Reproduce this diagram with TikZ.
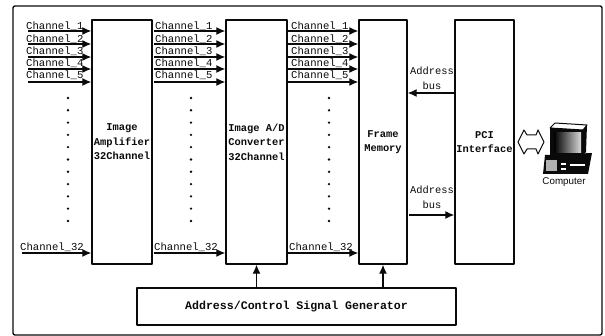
\documentclass[tikz,border=0pt]{standalone}
\usepackage{fontspec}
\setmainfont{Liberation Sans}
\setmonofont{Liberation Mono}
\usepackage{xcolor}
\usetikzlibrary{arrows.meta,calc}
\definecolor{ink}{HTML}{0A0A0A}
\begin{document}
\begin{tikzpicture}[x=1pt,y=-1pt,line join=round]
    \tikzset{
      unit/.style={rectangle,draw=ink,line width=1.4pt,fill=white,inner sep=0pt,minimum height=244pt,align=center,font=\ttfamily\bfseries\fontsize{10.4}{14.6}\selectfont,text=ink},
      chan/.style={inner sep=0pt,font=\ttfamily\fontsize{10.6}{12}\selectfont,text=ink},
      bus/.style={inner sep=0pt,align=center,font=\ttfamily\fontsize{10.4}{14.6}\selectfont,text=ink},
      arrow/.style={-{Latex[length=9pt,width=8pt]},draw=ink,line width=1.3pt},
      pt/.style={circle,fill=ink,inner sep=0pt,minimum size=2.6pt}
    }
    \useasboundingbox (0,0) rectangle (605,336);
    \draw[ink,line width=1.4pt,rounded corners=2pt] (13,6) rectangle (602,335);
    \node[unit,minimum width=60pt] (amp) at (122,142) {Image\\Amplifier\\32Channel};
    \node[unit,minimum width=61pt] (adc) at (256.5,142) {Image A/D\\Converter\\32Channel};
    \node[unit,minimum width=48pt] (mem) at (383,142) {Frame\\Memory};
    \node[unit,minimum width=59pt] (pci) at (484.5,142) {PCI\\Interface};
    \node[unit,minimum width=319pt,minimum height=37pt,font=\ttfamily\bfseries\fontsize{11.6}{14}\selectfont] (gen) at (296.5,306.5) {Address/Control Signal Generator};
    % channel inputs of the three stages
    \foreach \st/\sx/\lx/\dx/\tgt in {a/28/26/68/amp,b/154/155/191/adc,c/288/291/329/mem}{
      \foreach \n/\ya/\yl in {1/31/26,2/44/39,3/57/51,4/69/63,5/82/75}{
        \node[chan,anchor=west] (lab\st\n) at (\lx,\yl) {Channel\_\n};
        \coordinate (in\st\n) at (\sx,\ya);
        \draw[arrow] (in\st\n) -- (in\st\n -| \tgt.west);
      }
      \foreach \k in {0,...,10}{
        \node[pt] (dot\st\k) at (\dx,98+12.3*\k) {};
      }
    }
    \node[chan,anchor=west] (laba32) at (20,247) {Channel\_32};
    \node[chan,anchor=west] (labb32) at (154,247) {Channel\_32};
    \node[chan,anchor=west] (labc32) at (289,247) {Channel\_32};
    \coordinate (ina32) at (22,253);
    \coordinate (inb32) at (154,253);
    \coordinate (inc32) at (288,253);
    \draw[arrow] (ina32) -- (ina32 -| amp.west);
    \draw[arrow] (inb32) -- (inb32 -| adc.west);
    \draw[arrow] (inc32) -- (inc32 -| mem.west);
    % buses between memory and interface
    \node[bus] (bustop) at (432,78) {Address\\bus};
    \node[bus] (busbot) at (432,197) {Address\\bus};
    \coordinate (pcia) at (454,93);
    \coordinate (mema) at (409,215);
    \draw[arrow] (pcia) -- (pcia -| mem.east);
    \draw[arrow] (mema) -- (mema -| pci.west);
    % control lines
    \draw[arrow] (gen.north -| adc) -- (adc.south);
    \draw[arrow] (gen.north -| mem) -- (mem.south);
    % link arrow and computer
    \draw[ink,line width=1pt] (518,142) -- (524,130) -- (527,135) -- (536,135) -- (538,130) -- (544,142) -- (538,154) -- (536,149) -- (527,149) -- (524,154) -- cycle;
    \draw[ink,line width=1pt,fill=white] (550,128) -- (555,123) -- (587,125) -- (583,130) -- cycle;
    \fill[ink] (550,128) -- (583,130) -- (587,125) -- (586,152) -- (583,156) -- (550,156) -- cycle;
    \shade[left color=black,right color=white!85!black] (554,133) rectangle (581,153);
    \fill[ink] (545,155) -- (592,153) -- (588,174) -- (543,174) -- cycle;
    \fill[white!70!black] (546,160) rectangle (557,171);
    \fill[white] (561,163) rectangle (566,165);
    \fill[white] (561,168) rectangle (566,170);
    \fill[white] (570,164) rectangle (585,166);
    \node[inner sep=0pt,font=\fontsize{9.8}{10}\selectfont,text=ink] (comp) at (564,182) {Computer};
  \end{tikzpicture}
\end{document}
